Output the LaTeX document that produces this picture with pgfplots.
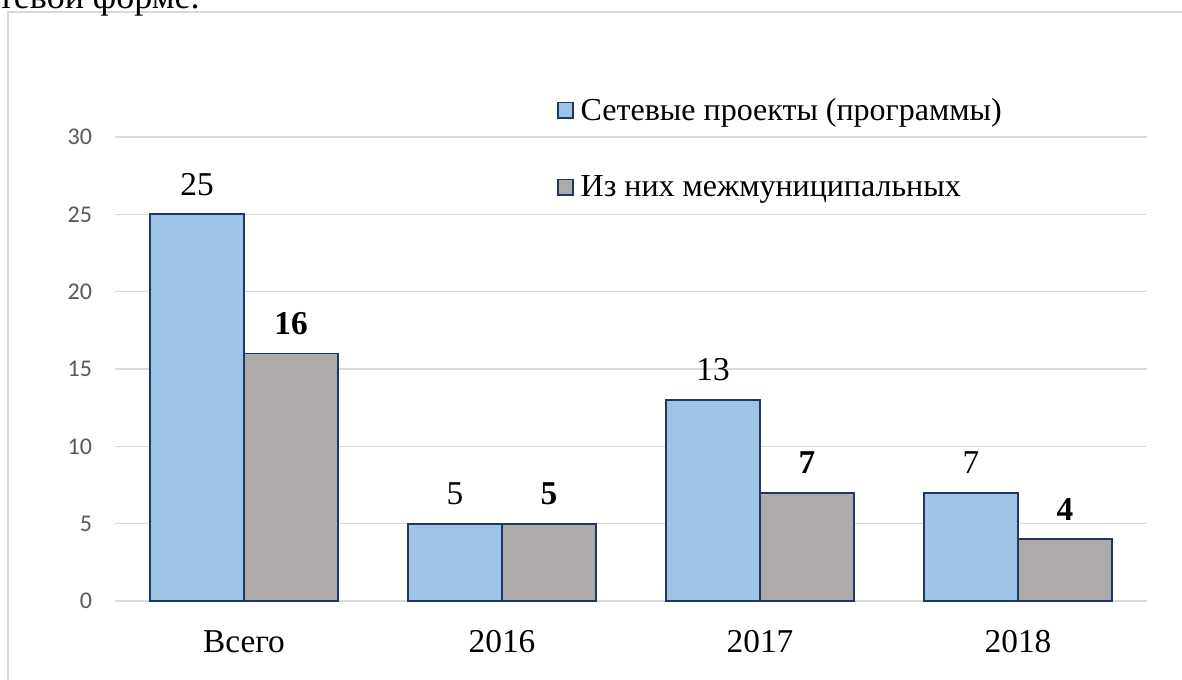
\documentclass[border=0pt]{standalone}
\usepackage{fontspec}
\setmainfont{Liberation Serif}
\newfontfamily\carlito{Carlito}
\usepackage{pgfplots}
\pgfplotsset{compat=1.18}
\definecolor{barblue}{HTML}{9DC3E6}
\definecolor{bargray}{HTML}{AEAAAA}
\definecolor{edgeblue}{HTML}{1F3864}
\definecolor{gridgray}{HTML}{D9D9D9}
\definecolor{ticktext}{HTML}{595959}
\begin{document}
\begin{tikzpicture}[x=0.75pt,y=0.75pt]
\useasboundingbox (0,0) rectangle (1182,680);
\clip (0,0) rectangle (1182,680);
\draw[color=gridgray, line width=1.5pt] (8,-5) -- (8,668) -- (1190,668);
\node[anchor=base west, inner sep=0pt, font=\fontsize{27}{30}\selectfont] at (-2,671) {тевой форме.};
\begin{axis}[
  at={(86.25pt,59.25pt)}, anchor=south west,
  width=774pt, height=348pt, scale only axis,
  ybar=0pt, bar width=70.5pt,
  xmin=-0.5, xmax=3.5, ymin=0, ymax=30,
  xtick={0,1,2,3}, xticklabels={Всего,2016,2017,2018},
  ytick={0,5,...,30},
  ymajorgrids, grid style={color=gridgray, line width=1.2pt},
  axis line style={draw=none}, tick style={draw=none}, major tick length=0pt,
  /pgf/number format/assume math mode=true,
  yticklabel style={font=\carlito\fontsize{18}{20}\selectfont, text=ticktext, inner sep=0pt, anchor=east, xshift=-17pt},
  xticklabel style={font=\fontsize{25}{28}\selectfont, inner sep=0pt, anchor=north, yshift=-22pt},
  nodes near coords,
  every node near coord/.append style={font=\fontsize{25}{28}\selectfont, inner sep=0pt, yshift=13.5pt, text=black},
  clip=false,
  legend image code/.code={\draw[#1,line width=1.3pt] (0pt,-5.75pt) rectangle (11.5pt,5.75pt);},
  legend style={at={(0.428,1.09)}, anchor=north west, draw=none, fill=none,
    font=\fontsize{24}{27}\selectfont, row sep=36pt, inner sep=0pt,
    nodes={inner sep=2pt},
    /tikz/every odd column/.append style={column sep=3pt}},
  legend cell align=left,
]
\addplot[fill=barblue, draw=edgeblue, line width=1.3pt] coordinates {(0,25) (1,5) (2,13) (3,7)};
\addplot[fill=bargray, draw=edgeblue, line width=1.3pt,
  nodes near coords={\textbf{\pgfmathprintnumber{\pgfplotspointmeta}}}] coordinates {(0,16) (1,5) (2,7) (3,4)};
\legend{Сетевые проекты (программы), Из них межмуниципальных}
\end{axis}
\end{tikzpicture}
\end{document}
